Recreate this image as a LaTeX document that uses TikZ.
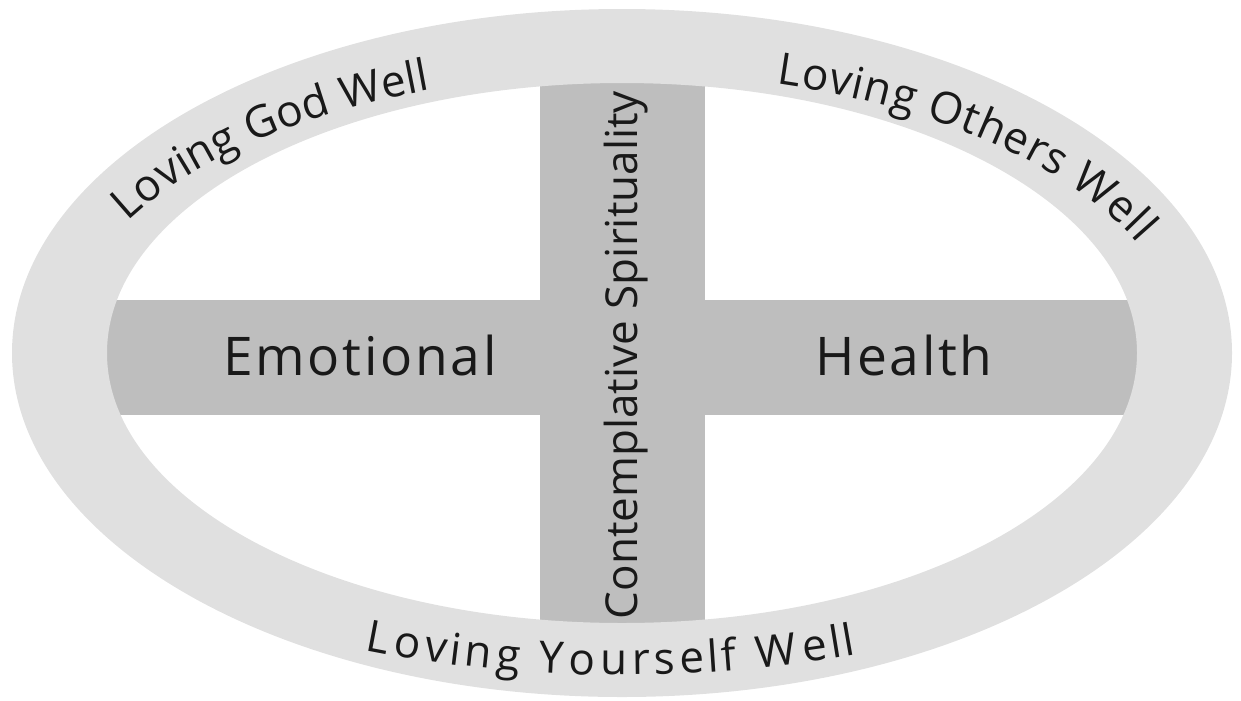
\documentclass[tikz,border=0pt]{standalone}
\usepackage{fontspec}
\setmainfont{Open Sans}
\newfontfamily\barfamily[LetterSpace=5]{Open Sans}
\usetikzlibrary{decorations.text}

\definecolor{ringgray}{RGB}{224,224,224}
\definecolor{bargray}{RGB}{190,190,190}
\definecolor{inkgray}{RGB}{25,25,25}

\newcommand{\ringfont}{\fontsize{33}{38}\selectfont}
\newcommand{\barfont}{\barfamily\fontsize{40}{46}\selectfont}

\tikzset{every picture/.style={line width=0.75pt}}
\tikzset{
  ringtext/.style={decorate, decoration={text effects along path, text={#1},
    text effects/.cd, text along path, fit text to path,
    every character/.style={font=\ringfont, text=inkgray, inner sep=0pt}}}
}

\begin{document}
\begin{tikzpicture}[x=0.75pt,y=0.75pt,yscale=-1,xscale=1]
	\useasboundingbox (0,0) rectangle (1241,700);
	
	%Shape: Rectangle [id:cross-horizontal]
	\fill [bargray] (95,300) rectangle (1150,415);
	%Shape: Rectangle [id:cross-vertical]
	\fill [bargray] (540,70) rectangle (705,640);
	%Shape: Ellipse ring [id:ring]
	\fill [ringgray, even odd rule] (622,353) ellipse [x radius=610, y radius=344] (622,353) ellipse [x radius=515, y radius=270];
	
	% Text on ring
	\path [ringtext={Loving God Well}] (622,353) ++(208:560 and 280) arc [start angle=208, end angle=250, x radius=560, y radius=280];
	% Text on ring
	\path [ringtext={Loving Others Well}] (622,353) ++(286:560 and 280) arc [start angle=286, end angle=337, x radius=560, y radius=280];
	% Text on ring
	\path [ringtext={Loving Yourself Well}] (622,353) ++(112.6:670 and 322) arc [start angle=112.6, end angle=69.5, x radius=670, y radius=322];
	
	% Text Node
	\node [inner sep=0.75pt, text=inkgray] (emotional) at (360,355) {\barfont Emotional};
	% Text Node
	\node [inner sep=0.75pt, text=inkgray] (health) at (904,355) {\barfont Health};
	% Text Node
	\node [inner sep=0.75pt, text=inkgray, rotate=90] (spirituality) at (626,355) {\fontsize{33}{38}\selectfont Contemplative Spirituality};
	
\end{tikzpicture}
\end{document}
